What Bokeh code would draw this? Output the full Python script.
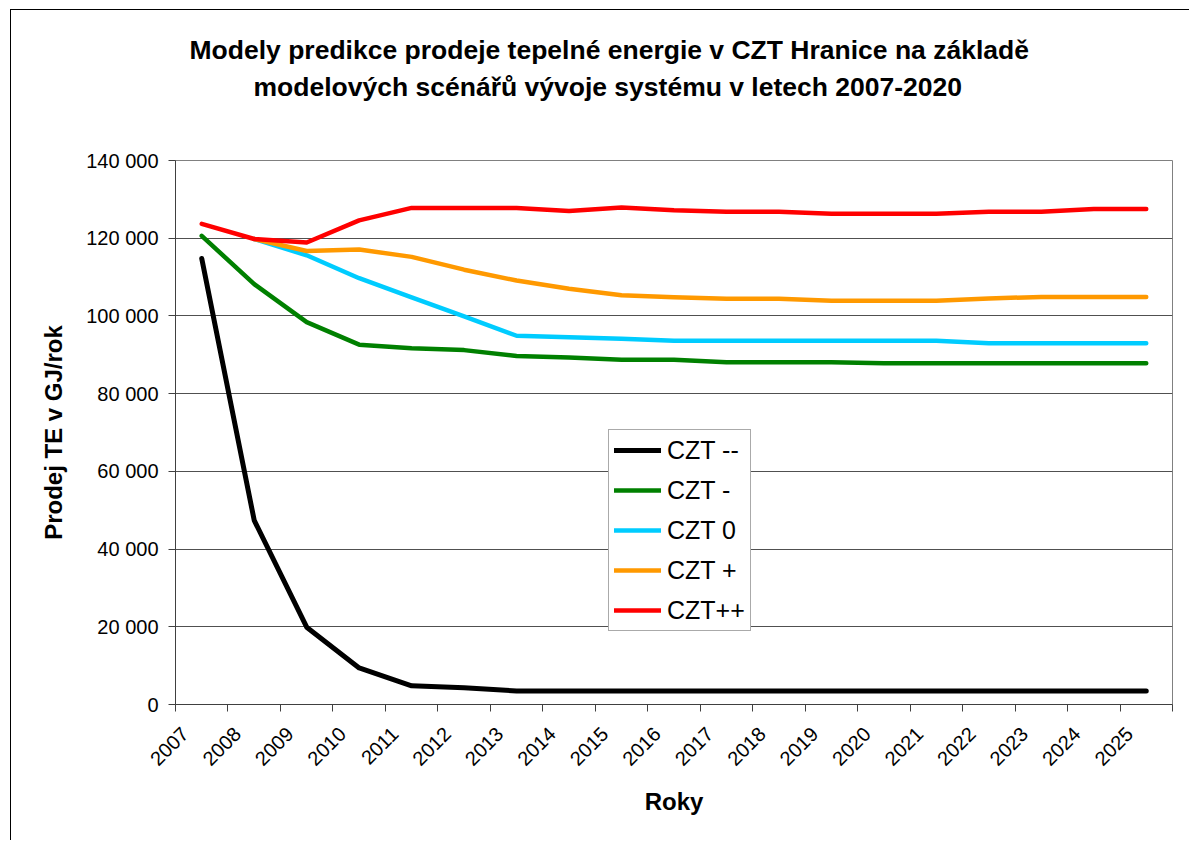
import math
from bokeh.plotting import figure
from bokeh.models import (Range1d, FixedTicker, Title, Legend, LegendItem,
                          CustomJSTickFormatter)
from bokeh.embed import file_html
from bokeh.resources import INLINE

years = list(range(2007, 2026))
czt_mm = [114800, 47400, 19900, 9400, 4800, 4300, 3500, 3500, 3500, 3500,
          3500, 3500, 3500, 3500, 3500, 3500, 3500, 3500, 3500]
czt_m = [120600, 108200, 98400, 92600, 91700, 91200, 89700, 89300, 88700, 88700,
         88100, 88100, 88100, 87800, 87800, 87800, 87800, 87800, 87800]
czt_0 = [float("nan"), 119800, 115600, 109700, 104800, 99900, 94900, 94500, 94100, 93600,
         93600, 93600, 93600, 93600, 93600, 93000, 93000, 93000, 93000]
czt_p = [float("nan"), 119800, 116700, 117100, 115200, 111900, 109100, 107000, 105300, 104800,
         104400, 104400, 103900, 103900, 103900, 104500, 104900, 104900, 104900]
czt_pp = [123700, 119800, 118900, 124600, 127800, 127800, 127800, 127000, 127900, 127200,
          126800, 126800, 126300, 126300, 126300, 126800, 126800, 127500, 127500]

series_names = ["CZT --", "CZT -", "CZT 0", "CZT +", "CZT++"]
series_values = [czt_mm, czt_m, czt_0, czt_p, czt_pp]
series_colors = ["#000000", "#008000", "#00CCFF", "#FF9900", "#FF0000"]
series_widths = [5, 4.5, 4.5, 4.5, 4.5]

y_ticks = [0, 20000, 40000, 60000, 80000, 100000, 120000, 140000]
y_tick_labels = ["0", "20 000", "40 000", "60 000", "80 000", "100 000", "120 000", "140 000"]

title_lines = ["Modely predikce prodeje tepelné energie v CZT Hranice na základě",
               "modelových scénářů vývoje systému v letech 2007-2020"]

FONT = "Liberation Sans"

p = figure(width=1179, height=831, output_backend="svg", toolbar_location=None,
           x_range=Range1d(years[0] - 0.5, years[-1] + 0.5),
           y_range=Range1d(y_ticks[0], y_ticks[-1]),
           min_border_left=164, min_border_top=150, min_border_right=18,
           min_border_bottom=137)
p.styles = {"border-left": "1px solid black", "border-top": "1px solid black",
            "margin-left": "10px", "margin-top": "9px"}
p.outline_line_color = "#808080"
p.background_fill_color = "white"
p.border_fill_color = "white"

lab_shift = 0.32
p.xaxis.ticker = FixedTicker(ticks=[y - lab_shift for y in years],
                             minor_ticks=[y - 0.5 for y in years] + [years[-1] + 0.5])
p.xaxis.formatter = CustomJSTickFormatter(
    code="return Math.round(tick + %f).toFixed(0);" % lab_shift)
p.xaxis.major_label_orientation = math.pi / 4
p.xaxis.major_tick_out = 0
p.xaxis.major_tick_in = 0
p.xaxis.minor_tick_out = 7
p.xaxis.minor_tick_in = 0
p.xaxis.major_label_standoff = 19
p.xaxis.axis_label = "Roky"
p.xaxis.axis_label_standoff = 13

p.yaxis.ticker = FixedTicker(ticks=y_ticks)
p.yaxis.major_label_overrides = dict(zip(y_ticks, y_tick_labels))
p.yaxis.major_tick_out = 7
p.yaxis.major_tick_in = 0
p.yaxis.minor_tick_out = 0
p.yaxis.minor_tick_in = 0
p.yaxis.major_label_standoff = 10
p.yaxis.axis_label = "Prodej TE v GJ/rok"
p.yaxis.axis_label_standoff = 16

for ax in (p.xaxis, p.yaxis):
    ax.axis_line_color = "#404040"
    ax.major_tick_line_color = "#404040"
    ax.minor_tick_line_color = "#404040"
    ax.major_label_text_font = FONT
    ax.major_label_text_font_size = "20px"
    ax.major_label_text_color = "black"
    ax.axis_label_text_font = FONT
    ax.axis_label_text_font_size = "24px"
    ax.axis_label_text_font_style = "bold"
    ax.axis_label_text_color = "black"

p.xgrid.visible = False
p.ygrid.ticker = FixedTicker(ticks=y_ticks)
p.ygrid.grid_line_color = "#505050"
p.ygrid.grid_line_width = 1

items = []
for name, vals, col, lw in zip(series_names, series_values, series_colors, series_widths):
    r = p.line(years, vals, line_color=col, line_width=lw,
               line_cap="round", line_join="round")
    items.append(LegendItem(label=name, renderers=[r]))

legend = Legend(items=items, location=(433, 73),
                label_text_font=FONT, label_text_font_size="25px",
                label_text_color="black",
                label_height=30, glyph_height=30, glyph_width=47,
                label_standoff=6, spacing=10, padding=5, margin=0,
                border_line_color="#555555", border_line_width=1,
                background_fill_color="white", background_fill_alpha=1)
p.add_layout(legend, "center")

# titles stacked above the plot: spacer, second line, first line
p.add_layout(Title(text=" ", text_font_size="1px", standoff=56), "above")
p.add_layout(Title(text=title_lines[1], align="left", offset=78, standoff=0,
                   text_font=FONT, text_font_size="26.5px", text_font_style="bold",
                   text_color="black"), "above")
p.add_layout(Title(text=title_lines[0], align="left", offset=14, standoff=9,
                   text_font=FONT, text_font_size="26.5px", text_font_style="bold",
                   text_color="black"), "above")

open("out.html", "w").write(file_html(p, INLINE))
